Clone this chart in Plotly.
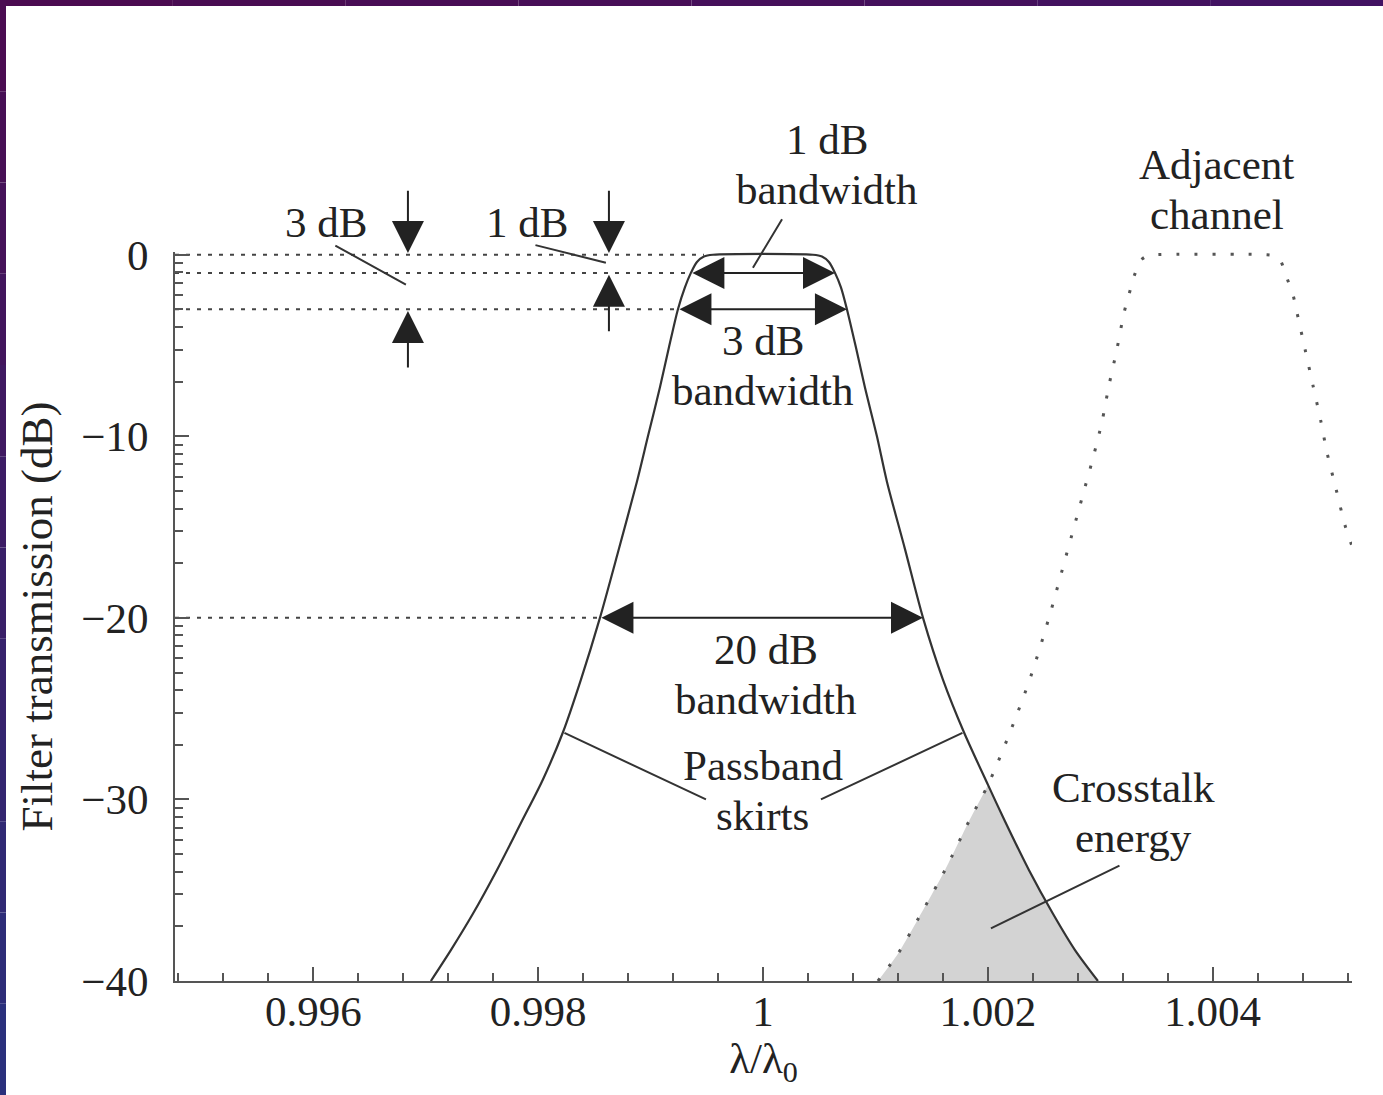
import numpy as np
import plotly.graph_objects as go

# ---------------- data ----------------
# main filter transmission (lambda/lambda0, dB)
main_x = [0.997046, 0.997224, 0.997420, 0.997633, 0.997847, 0.998043, 0.998221,
          0.998381, 0.998550, 0.998710, 0.998879, 0.998977, 0.999084, 0.999164,
          0.999244, 0.999306, 0.999359, 0.999413, 0.999475, 0.999555,
          1.000445, 1.000525, 1.000587, 1.000641, 1.000694, 1.000747, 1.000827,
          1.000907, 1.001014, 1.001103, 1.001263, 1.001424, 1.001601, 1.001788,
          1.002002, 1.002153, 1.002367, 1.002580, 1.002776, 1.002980]
main_y = [-40.0, -38.3, -36.3, -33.9, -31.3, -28.9, -26.3,
          -23.4, -20.0, -16.4, -12.5, -10.0, -7.3, -5.1,
          -3.0, -1.8, -1.0, -0.4, -0.1, 0.0,
          0.0, -0.1, -0.4, -1.0, -1.8, -3.0, -5.1,
          -7.3, -10.0, -12.5, -16.2, -20.0, -23.4, -26.3,
          -29.2, -31.2, -33.9, -36.3, -38.3, -40.0]

# adjacent channel (dotted)
adj_x = [1.001023, 1.001201, 1.001388, 1.001619, 1.001833, 1.002002, 1.002198,
         1.002384, 1.002544, 1.002696, 1.002865, 1.002936, 1.003016, 1.003078,
         1.003149, 1.003212, 1.003256, 1.003301, 1.003363, 1.003425, 1.003496,
         1.004475, 1.004537, 1.004600, 1.004662, 1.004715, 1.004751, 1.004822,
         1.004893, 1.004964, 1.005018, 1.005098, 1.005178, 1.005249]
adj_y = [-40.0, -38.5, -36.5, -33.9, -31.2, -29.2, -26.3,
         -23.2, -20.0, -16.6, -12.8, -11.2, -9.2, -7.2,
         -5.2, -3.2, -2.2, -1.2, -0.3, -0.05, 0.0,
         0.0, -0.05, -0.3, -1.3, -2.2, -3.2, -5.2,
         -7.2, -9.2, -10.9, -12.9, -14.9, -16.2]

x_tick_vals = [0.996, 0.998, 1.0, 1.002, 1.004]
x_tick_text = ["0.996", "0.998", "1", "1.002", "1.004"]
y_tick_vals = [0, -10, -20, -30, -40]
y_tick_text = ["0", "\u221210", "\u221220", "\u221230", "\u221240"]

# dotted reference levels and where they meet the passband
ref_levels = [0.0, -1.0, -3.0, -20.0]
ref_ends = [0.999475, 0.999359, 0.999244, 0.998550]

# bandwidth arrows
bw_levels = [-1.0, -3.0, -20.0]
bw_left = [0.999359, 0.999244, 0.998550]
bw_right = [1.000641, 1.000747, 1.001424]

# vertical marker arrows (x position, level)
mark_x = [0.996842, 0.998630]
mark_level = [-3.0, -1.0]

# text labels: (lines, x, centre level in dB)
labels = [
    (["3 dB"], 0.996112, 1.8),
    (["1 dB"], 0.997900, 1.8),
    (["1 dB", "bandwidth"], 1.000569, 4.95),
    (["Adjacent", "channel"], 1.004039, 3.6),
    (["3 dB", "bandwidth"], 1.000000, -6.1),
    (["20 dB", "bandwidth"], 1.000027, -23.1),
    (["Passband", "skirts"], 1.000000, -29.5),
    (["Crosstalk", "energy"], 1.003300, -30.7),
]

X_RANGE = [0.99477, 1.00524]
Y_RANGE = [-40.0, 0.15]

FONT = "Liberation Serif"
TXT = "#222222"
LINE = "#333333"
AX = "#555555"
FS = 43
LINE_GAP_DB = 2.75   # spacing between the two lines of a label


def ypaper(v):
    # position of a dB value on the paper (linear axis)
    return (v - Y_RANGE[0]) / (Y_RANGE[1] - Y_RANGE[0])


fig = go.Figure()

# crosstalk shaded region: adjacent skirt up to the crossing, then main skirt down
cross_x = float(main_x[main_y.index(-29.2)])
k_adj = [i for i, v in enumerate(adj_x) if v <= cross_x]
k_main = [i for i, v in enumerate(main_x) if v >= cross_x]
poly_x = [adj_x[i] for i in k_adj] + [main_x[i] for i in k_main]
poly_y = [adj_y[i] for i in k_adj] + [main_y[i] for i in k_main]
fig.add_trace(go.Scatter(x=poly_x, y=poly_y, fill="toself", mode="lines",
                         line=dict(width=0, shape="spline", smoothing=0.6),
                         fillcolor="#d3d3d3", hoverinfo="skip", showlegend=False))

# dotted reference levels
for lev, xe in zip(ref_levels, ref_ends):
    fig.add_trace(go.Scatter(x=[X_RANGE[0], xe], y=[lev, lev], mode="lines",
                             line=dict(color="#444444", width=2, dash="4px,7px"),
                             hoverinfo="skip", showlegend=False))

# main filter
fig.add_trace(go.Scatter(x=main_x, y=main_y, mode="lines",
                         line=dict(color=LINE, width=2.2, shape="spline", smoothing=0.8),
                         hoverinfo="skip", showlegend=False))
# adjacent channel
fig.add_trace(go.Scatter(x=adj_x, y=adj_y, mode="lines",
                         line=dict(color="#555555", width=3, dash="3px,15px",
                                   shape="spline", smoothing=0.8),
                         hoverinfo="skip", showlegend=False))

ann = []
ARW = dict(showarrow=True, arrowcolor="#222222", arrowwidth=2, arrowhead=2,
           arrowsize=3.2, standoff=0, startstandoff=0, axref="x", ayref="y",
           xref="x", yref="y", text="")

# bandwidth double arrows
for lev, xl, xr in zip(bw_levels, bw_left, bw_right):
    ann.append(dict(ARW, x=xr, y=lev, ax=xl, ay=lev, arrowside="end+start",
                    startarrowhead=2, startarrowsize=3.2))

# vertical marker arrows (down to 0 dB, up to the level)
for mx, lev in zip(mark_x, mark_level):
    ann.append(dict(ARW, x=mx, y=0.1, ax=mx, ay=3.6))
    ann.append(dict(ARW, x=mx, y=lev - 0.1, ax=mx, ay=lev - 3.3))

# pointer lines (no heads)
PTR = dict(ARW, arrowhead=0, arrowwidth=2, arrowcolor=LINE)
pointers = [
    (0.996183, 0.55, 0.996824, -1.65),
    (0.997963, 0.55, 0.998603, -0.44),
    (1.000178, 2.04, 0.999911, -0.72),
    (0.998221, -26.3, 0.999493, -30.0),
    (1.001788, -26.3, 1.000516, -30.0),
    (1.003185, -33.6, 1.002028, -37.1),
]
for x0, y0, x1, y1 in pointers:
    ann.append(dict(PTR, ax=x0, ay=y0, x=x1, y=y1))

# text labels (placed on the paper in y so the ones above 0 dB are kept)
for lines, x, c in labels:
    n = len(lines)
    for j, t in enumerate(lines):
        yv = c + LINE_GAP_DB * ((n - 1) / 2 - j)
        ann.append(dict(text=t, x=x, y=ypaper(yv), xref="x", yref="paper",
                        showarrow=False, font=dict(family=FONT, size=FS, color=TXT),
                        xanchor="center", yanchor="middle"))

# decorative frame (top and left strips)
shapes = []
W, H, L, T, R, B = 1383, 1095, 175, 252, 31, 114
pw, ph = W - L - R, H - T - B


def px2paper_x(p):
    return (p - L) / pw


def px2paper_y(p):
    return (H - B - p) / ph


t0 = np.array([0x4b, 0x0b, 0x50])
t1 = np.array([0x42, 0x12, 0x62])
nseg = 8
for i in range(nseg):
    f = i / (nseg - 1)
    c = (t0 * (1 - f) + t1 * f).astype(int)
    shapes.append(dict(type="rect", xref="paper", yref="paper",
                       x0=px2paper_x(W * i / nseg), x1=px2paper_x(W * (i + 1) / nseg),
                       y0=px2paper_y(6), y1=px2paper_y(0),
                       fillcolor="rgb(%d,%d,%d)" % tuple(c), line=dict(width=0),
                       layer="above"))
c0 = np.array([0x4b, 0x0c, 0x52])
c1 = np.array([0x2a, 0x30, 0x7c])
nseg = 12
for i in range(nseg):
    f = i / (nseg - 1)
    c = (c0 * (1 - f) + c1 * f).astype(int)
    shapes.append(dict(type="rect", xref="paper", yref="paper",
                       x0=px2paper_x(0), x1=px2paper_x(6),
                       y0=px2paper_y(H * (i + 1) / nseg), y1=px2paper_y(H * i / nseg),
                       fillcolor="rgb(%d,%d,%d)" % tuple(c), line=dict(width=0),
                       layer="above"))

x_minor = [round(v, 4) for v in np.arange(0.9948, 1.00521, 0.0004)]
y_minor = [d - 10 + 10 * np.log10(k) for d in [0, -10, -20, -30] for k in range(2, 10)]

fig.update_layout(
    width=W, height=H,
    margin=dict(l=L, r=R, t=T, b=B),
    paper_bgcolor="white", plot_bgcolor="white",
    showlegend=False,
    annotations=ann, shapes=shapes,
    font=dict(family=FONT, size=FS, color=TXT),
    xaxis=dict(range=X_RANGE, tickmode="array", tickvals=x_tick_vals, ticktext=x_tick_text,
               ticks="inside", ticklen=14, tickwidth=2, tickcolor=AX, ticklabelstandoff=-9,
               showline=True, linecolor=AX, linewidth=2, showgrid=False, zeroline=False,
               tickfont=dict(family=FONT, size=FS, color=TXT),
               title=dict(text="\u03bb/\u03bb<sub>0</sub>", standoff=7,
                          font=dict(family=FONT, size=FS, color=TXT)),
               minor=dict(tickvals=x_minor, ticks="inside", ticklen=8, tickwidth=2,
                          tickcolor=AX, showgrid=False)),
    yaxis=dict(range=Y_RANGE, tickmode="array", tickvals=y_tick_vals, ticktext=y_tick_text,
               ticks="inside", ticklen=14, tickwidth=2, tickcolor=AX, ticklabelstandoff=16,
               showline=True, linecolor=AX, linewidth=2, showgrid=False, zeroline=False,
               tickfont=dict(family=FONT, size=FS, color=TXT),
               title=dict(text="Filter transmission (dB)", standoff=14,
                          font=dict(family=FONT, size=45, color=TXT)),
               minor=dict(tickvals=y_minor, ticks="inside", ticklen=8, tickwidth=2,
                          tickcolor=AX, showgrid=False)),
)

fig.write_html("out.html", config={"displayModeBar": False},
               post_script="document.body.style.margin='0px';"
                           "document.body.style.overflow='hidden';")
